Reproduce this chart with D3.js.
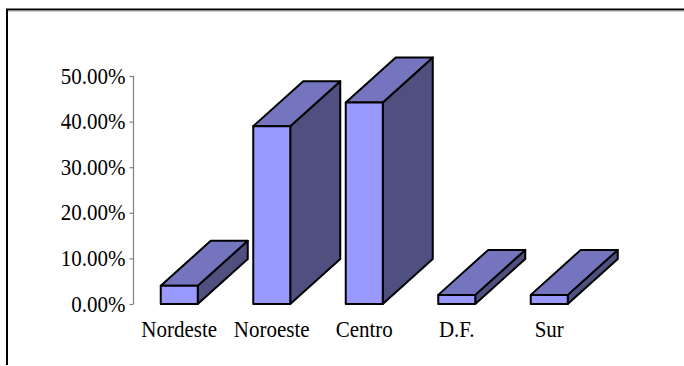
<!DOCTYPE html>
<html>
<head>
<meta charset="utf-8">
<script src="https://cdn.jsdelivr.net/npm/d3@7/dist/d3.min.js"></script>
<style>
  html, body { margin: 0; padding: 0; background: #fff; }
  svg { display: block; }
  text { font-family: "Liberation Serif", "Times New Roman", serif; fill: #000; }
</style>
</head>
<body>
<svg id="chart" width="684" height="366"></svg>
<script>
// Share of responses by region
const categories = ["Nordeste", "Noroeste", "Centro", "D.F.", "Sur"];
const values = [0.04, 0.39, 0.442, 0.02, 0.02];
const tickValues = [0, 0.1, 0.2, 0.3, 0.4, 0.5];

const width = 684, height = 366;
const svg = d3.select("#chart");

// Outer frame: top and left edges only
svg.append("line").attr("x1", 6).attr("x2", width).attr("y1", 9.5).attr("y2", 9.5)
  .attr("stroke", "#000").attr("stroke-width", 2);
svg.append("line").attr("x1", 7).attr("x2", width).attr("y1", 11).attr("y2", 11)
  .attr("stroke", "#999").attr("stroke-width", 1);
svg.append("line").attr("x1", 7).attr("x2", 7).attr("y1", 9).attr("y2", 365)
  .attr("stroke", "#000").attr("stroke-width", 2);

const x = d3.scaleBand()
  .domain(categories)
  .range([133, 595.5])
  .paddingInner(0.6)
  .paddingOuter(0.3);

const y = d3.scaleLinear().domain([0, 0.5]).range([304, 76]);

// 3D depth offset
const depthX = 50, depthY = 45;

// Value axis
const yAxis = svg.append("g")
  .attr("transform", "translate(133.5,0)")
  .call(d3.axisLeft(y).tickValues(tickValues).tickFormat(d3.format(".2%")).tickSize(4).tickPadding(4));
yAxis.select(".domain").attr("stroke", "#808080").attr("stroke-width", 1.2).attr("d", `M0,${y(0)}V${y(0.5)}`);
yAxis.selectAll(".tick line").attr("stroke", "#808080").attr("stroke-width", 1.2);
yAxis.selectAll(".tick text")
  .attr("font-family", "Liberation Serif, Times New Roman, serif")
  .attr("font-size", 21)
  .attr("fill", "#000")
  .attr("transform", "scale(1,1.05)");

// Bars
const bars = svg.append("g").selectAll("g.bar")
  .data(categories.map((c, i) => ({ c, v: values[i] })))
  .join("g").attr("class", "bar");

const faceStyle = sel => sel.attr("stroke", "#000").attr("stroke-width", 2).attr("stroke-linejoin", "round");

bars.each(function (d) {
  const g = d3.select(this);
  const x0 = x(d.c), x1 = x0 + x.bandwidth();
  const yt = y(d.v), yb = y(0);
  // side face
  g.append("path")
    .attr("d", `M${x1},${yt}L${x1 + depthX},${yt - depthY}L${x1 + depthX},${yb - depthY}L${x1},${yb}Z`)
    .attr("fill", "#4f4f80").call(faceStyle);
  // top face
  g.append("path")
    .attr("d", `M${x0},${yt}L${x0 + depthX},${yt - depthY}L${x1 + depthX},${yt - depthY}L${x1},${yt}Z`)
    .attr("fill", "#7575bf").call(faceStyle);
  // front face
  g.append("path")
    .attr("d", `M${x0},${yt}L${x1},${yt}L${x1},${yb}L${x0},${yb}Z`)
    .attr("fill", "#9999ff").call(faceStyle);
});

// Category labels
svg.append("g").selectAll("text")
  .data(categories)
  .join("text")
  .attr("transform", d => `translate(${x(d) + x.bandwidth() / 2},337) scale(1,1.12)`)
  .attr("text-anchor", "middle")
  .attr("font-size", 21)
  .text(d => d);
</script>
</body>
</html>
